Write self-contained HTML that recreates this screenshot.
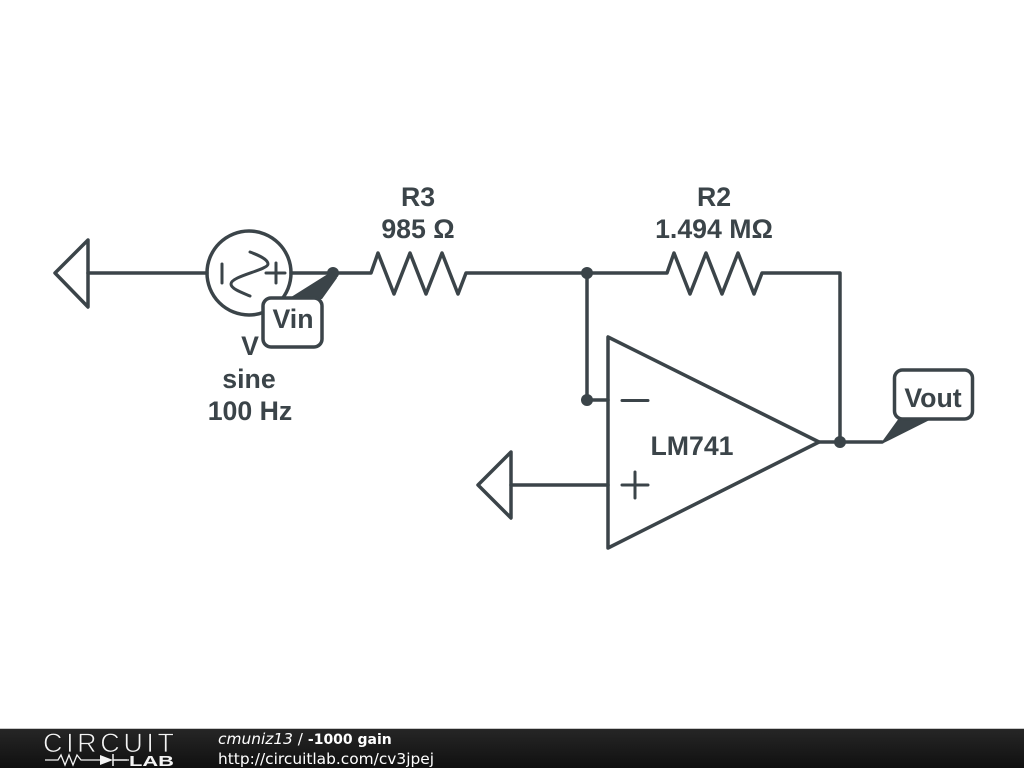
<!DOCTYPE html>
<html><head><meta charset="utf-8"><style>
html,body{margin:0;padding:0;background:#fff;width:1024px;height:768px;overflow:hidden}
svg{display:block}
.t{font-family:"Liberation Sans",sans-serif;font-weight:bold;font-size:26.700px;fill:#3b4449;text-anchor:middle}
.f{font-family:"DejaVu Sans",sans-serif;font-size:15.400px;fill:#fff}
</style></head><body>
<svg width="1024" height="768" viewBox="0 0 1024 768" xmlns="http://www.w3.org/2000/svg">
<defs><linearGradient id="g" x1="0" y1="0" x2="0" y2="1"><stop offset="0" stop-color="#262626"/><stop offset="1" stop-color="#101010"/></linearGradient></defs>
<g fill="none" stroke="#3b4449" stroke-width="3.500" stroke-linejoin="round" stroke-linecap="round">
<path d="M88 273H207M291 273H371L378 253L394 294L410 253L426 294L442 253L458 294L466 273H667L674 253L690 294L706 253L722 294L738 253L754 294L762 273H840V442M587 273V400H608M511 485H608M819 442H882"/>
<path d="M88 240L55 273L88 307Z"/>
<path d="M511 452L478 485L511 518Z"/>
<path d="M608 337V548L819 442Z"/>
<circle cx="249" cy="273" r="42"/>
<path stroke-width="3" d="M222 264V283M266 273H285M276 263V283"/>
<path stroke-width="3" d="M250 252C258 255 268 259 268 264C268 270 231 276 231 284C231 289 243 293 250 296"/>
<path stroke-width="3" d="M622 400.500H648M622 485H648M635 472V498"/>
</g>
<g fill="#3b4449">
<circle cx="333" cy="273" r="6"/><circle cx="587" cy="273" r="6"/><circle cx="587" cy="400" r="6"/><circle cx="840" cy="442" r="6"/>
<path d="M331 272L337 278L322 299H288Z"/>
<path d="M882 443L900 418H932Z" stroke="#3b4449" stroke-width="1.500"/>
</g>
<rect x="263" y="298" width="59" height="49" rx="8" fill="#fff" stroke="#3b4449" stroke-width="3.500"/>
<rect x="894.500" y="370" width="78" height="49" rx="8" fill="#fff" stroke="#3b4449" stroke-width="3.500"/>
<text class="t" x="293" y="328">Vin</text>
<text class="t" x="933" y="407">Vout</text>
<text class="t" x="418" y="206">R3</text>
<text class="t" x="418" y="238">985 Ω</text>
<text class="t" x="714" y="206">R2</text>
<text class="t" x="714" y="238">1.494 MΩ</text>
<text class="t" x="250" y="355">V</text>
<text class="t" x="249" y="388">sine</text>
<text class="t" x="250" y="420">100 Hz</text>
<text class="t" x="692" y="455">LM741</text>
<rect x="0" y="729" width="1024" height="39" fill="url(#g)"/>
<rect x="0" y="728" width="1024" height="1" fill="#c8c8c8"/>
<text x="43" y="752" font-family="Liberation Sans,sans-serif" font-size="27" fill="#f4f4f4" stroke="#1c1c1c" stroke-width="0.800" textLength="131" lengthAdjust="spacing">CIRCUIT</text>
<path d="M45 760H58L61 755L65 765L69 755L73 765L77 755L81 760H100M127 760H129" fill="none" stroke="#f4f4f4" stroke-width="1.300"/>
<path d="M100 755L113 760L100 765Z" fill="#f4f4f4"/>
<path d="M113 754V766M113 760H127" fill="none" stroke="#f4f4f4" stroke-width="1.500"/>
<text x="129" y="766" font-family="Liberation Sans,sans-serif" font-size="15" font-weight="bold" fill="#f4f4f4" textLength="45" lengthAdjust="spacingAndGlyphs">LAB</text>
<text class="f" x="218" y="744"><tspan font-style="italic">cmuniz13</tspan> / <tspan font-weight="bold" font-size="14">-1000 gain</tspan></text>
<text class="f" x="218" y="764">http://circuitlab.com/cv3jpej</text>
</svg>
</body></html>
